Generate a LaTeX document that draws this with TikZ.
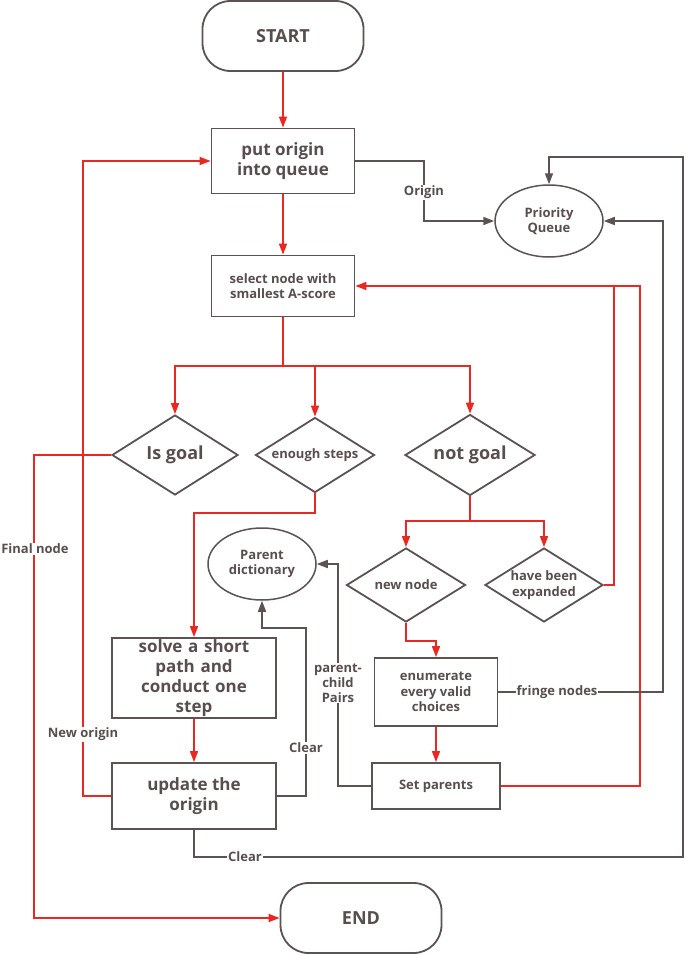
\documentclass[tikz,border=0pt]{standalone}
\usepackage{fontspec}
\setmainfont{Open Sans}
\usetikzlibrary{shapes.geometric,arrows.meta}
\definecolor{rd}{RGB}{234,40,34}
\definecolor{dk}{RGB}{92,82,82}
\definecolor{tx}{RGB}{88,78,78}
\begin{document}
\begin{tikzpicture}[x=1pt,y=-1pt,
  every node/.style={text=tx,font=\bfseries,align=center},
  pill/.style={draw=dk,line width=1.8pt,rounded corners=28pt,minimum width=161pt,minimum height=70pt,font=\bfseries\fontsize{18}{21}\selectfont},
  bigbox/.style={draw=dk,line width=1.8pt,minimum width=143pt,inner sep=1pt,font=\bfseries\fontsize{17}{20}\selectfont},
  smallbox/.style={draw=dk,line width=1.8pt,inner sep=2pt,font=\bfseries\fontsize{13}{15.5}\selectfont},
  oval/.style={draw=dk,line width=1.5pt,ellipse,minimum width=108pt,minimum height=72pt,inner sep=0pt,font=\bfseries\fontsize{13}{15.5}\selectfont},
  dia/.style={draw=dk,line width=1.8pt,diamond,aspect=1.6,inner sep=0pt},
  bigdia/.style={dia,font=\bfseries\fontsize{18}{21}\selectfont},
  smalldia/.style={dia,font=\bfseries\fontsize{13}{15.5}\selectfont},
  rline/.style={draw=rd,line width=1.6pt},
  rarrow/.style={rline,-{Triangle[length=11pt,width=8pt]}},
  dline/.style={draw=dk,line width=1.6pt},
  darrow/.style={dline,-{Triangle[length=11pt,width=8pt]}},
  lbl/.style={fill=white,inner sep=1pt,font=\bfseries\fontsize{13}{15}\selectfont}]
\useasboundingbox[fill=white] (0,0) rectangle (685,955);

% nodes
\node[pill] (start) at (283,36) {START};
\node[bigbox,minimum height=65pt] (put) at (283,161) {put origin\\into queue};
\node[smallbox,minimum width=143pt,minimum height=61pt] (sel) at (283,286) {select node with\\smallest A-score};
\node[oval] (pq) at (549,221) {Priority\\Queue};
\node[bigdia,minimum width=126pt,minimum height=80pt] (isgoal) at (175,455) {Is goal};
\node[smalldia,minimum width=119pt,minimum height=75pt] (enough) at (315,455) {enough steps};
\node[bigdia,minimum width=130pt,minimum height=81pt] (notgoal) at (470,455) {not goal};
\node[smalldia,minimum width=119pt,minimum height=74pt] (newnode) at (406,585) {new node};
\node[smalldia,minimum width=118pt,minimum height=74pt] (hbe) at (544,585) {have been\\expanded};
\node[oval] (pdict) at (262,564) {Parent\\dictionary};
\node[bigbox,minimum width=164pt,minimum height=80pt,text width=150pt,inner sep=0pt] (solve) at (194,678) {solve a short\\path and\\conduct one\\step};
\node[bigbox,minimum width=164pt,minimum height=66pt] (update) at (194,796) {update the\\origin};
\node[smallbox,minimum width=123pt,minimum height=68pt] (enum) at (436,692) {enumerate\\every valid\\choices};
\node[smallbox,minimum width=128pt,minimum height=46pt] (setp) at (436,786) {Set parents};
\node[pill] (end) at (361,918) {END};

% coordinates
\coordinate (b1) at (283,366);
\coordinate (b2) at (470,521);
\coordinate (c1) at (683,857);
\coordinate (c2) at (683,157);
\coordinate (c3) at (663,692);
\coordinate (c4) at (640,286);
\coordinate (c5) at (614,286);
\coordinate (c6) at (83,161);
\coordinate (c7) at (34,918);
\coordinate (c8) at (306,628);
\coordinate (c9) at (338,564);
\coordinate (c10) at (194,513);
\coordinate (c11) at (424,161);

% red flow
\draw[rarrow] (start) -- (put);
\draw[rarrow] (put) -- (sel);
\draw[rline] (sel.south) -- (b1);
\draw[rarrow] (b1) -| (isgoal.north);
\draw[rarrow] (b1) -| (enough.north);
\draw[rarrow] (b1) -| (notgoal.north);
\draw[rline] (notgoal.south) -- (b2);
\draw[rarrow] (b2) -| (newnode.north);
\draw[rarrow] (b2) -| (hbe.north);
\draw[rarrow] (enough.south) |- (c10) -- (solve.north);
\draw[rarrow] (solve) -- (update);
\draw[rarrow] (newnode.south) -- ++(0,18) -| (enum.north);
\draw[rarrow] (enum) -- (setp);
\draw[rarrow] (setp.east) -| (c4) -- (sel.east);
\draw[rline] (hbe.east) -| (c5);
\draw[rarrow] (update.west) -| (c6) -- (put.west);
\draw[rarrow] (isgoal.west) -| (c7) -- (end.west);

% dark flow
\draw[darrow] (put.east) -- (c11) |- (pq.west);
\draw[darrow] (update.south) |- (c1) -- (c2) -| (pq.north);
\draw[darrow] (enum.east) -- (c3) |- (pq.east);
\draw[darrow] (update.east) -| (c8) -| (pdict.south);
\draw[darrow] (setp.west) -| (c9) -- (pdict.east);

% labels
\node[lbl] (lorigin) at (424,192) {Origin};
\node[lbl] (lclear1) at (306,748) {Clear};
\node[lbl] (lclear2) at (245,857) {Clear};
\node[lbl] (lnew) at (83,734) {New origin};
\node[lbl] (lfinal) at (35,549) {Final node};
\node[lbl] (lpairs) at (338,683) {parent-\\child\\Pairs};
\node[lbl] (lfringe) at (557,692) {fringe nodes};
\end{tikzpicture}
\end{document}
